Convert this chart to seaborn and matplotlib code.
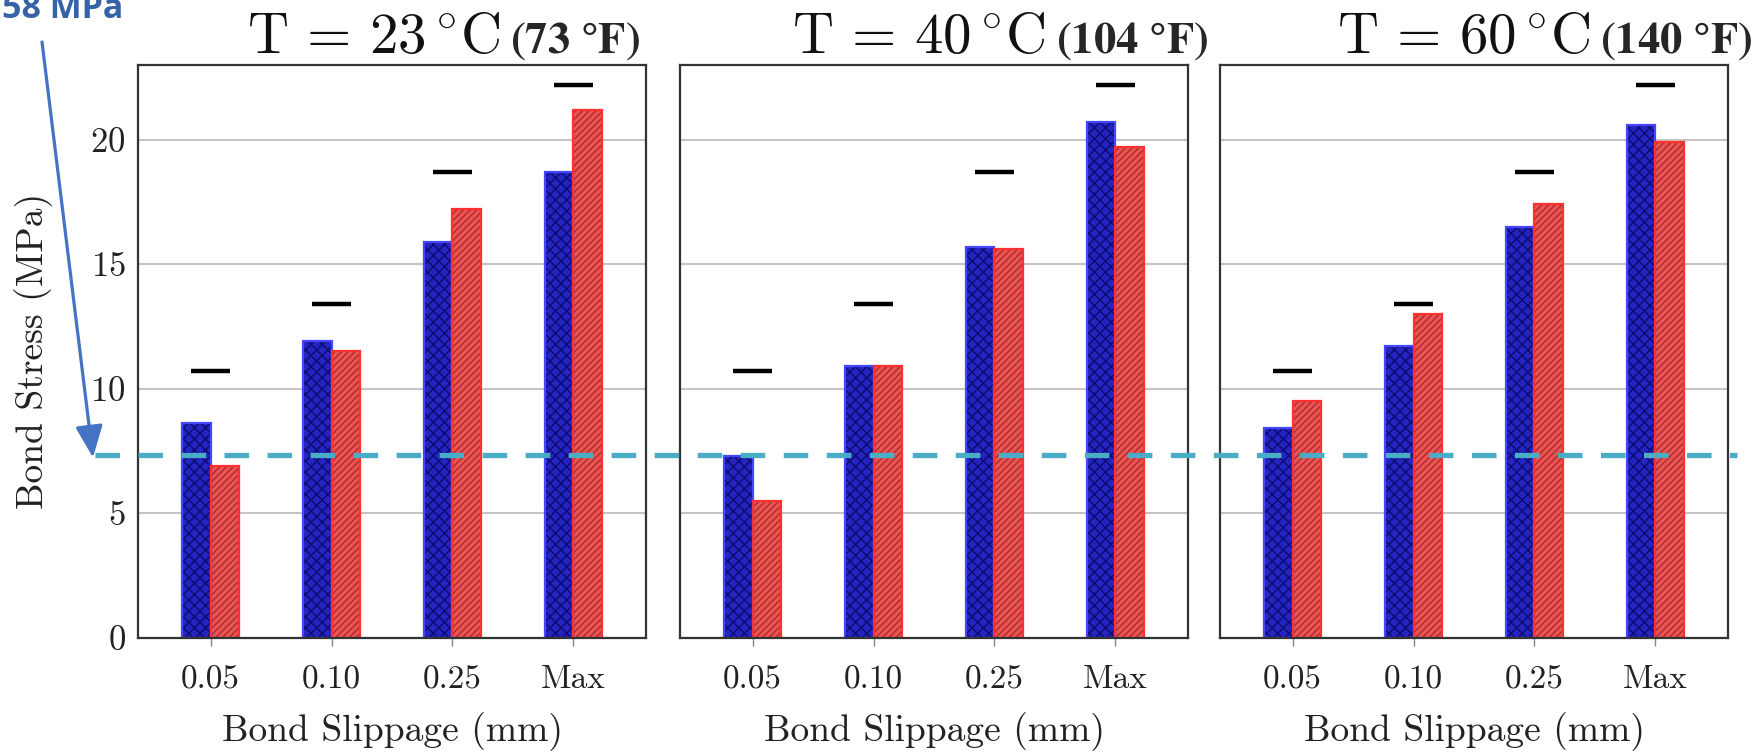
import numpy as np
import pandas as pd
import matplotlib
matplotlib.use("Agg")
import matplotlib.pyplot as plt
import matplotlib.transforms as mtrans
from matplotlib.patches import Rectangle, FancyArrowPatch
from matplotlib.lines import Line2D
import seaborn as sns

# ---------------- data ----------------
slips = ["0.05", "0.10", "0.25", "Max"]
temps_c = ["23", "40", "60"]
temps_f = ["73", "104", "140"]
specimens = ["A", "B"]

blue_23 = [8.6, 11.9, 15.9, 18.7]
red_23 = [6.9, 11.5, 17.2, 21.2]
blue_40 = [7.3, 10.9, 15.7, 20.7]
red_40 = [5.5, 10.9, 15.6, 19.7]
blue_60 = [8.4, 11.7, 16.5, 20.6]
red_60 = [9.5, 13.0, 17.4, 19.9]
reference = [10.7, 13.4, 18.7, 22.2]
threshold = 7.35
threshold_label = "58 MPa"

yticks = [0, 5, 10, 15, 20]
ylim_top = 23

blues = [blue_23, blue_40, blue_60]
reds = [red_23, red_40, red_60]

rows = []
for t, b, r in zip(temps_c, blues, reds):
    for s, bv, rv in zip(slips, b, r):
        rows.append({"temp": t, "slip": s, "spec": "A", "stress": bv})
        rows.append({"temp": t, "slip": s, "spec": "B", "stress": rv})
df = pd.DataFrame(rows)

# ---------------- style ----------------
sns.set_theme(style="white")
plt.rcParams["mathtext.fontset"] = "cm"
plt.rcParams["axes.formatter.use_mathtext"] = True
plt.rcParams["hatch.linewidth"] = 1.0
CM = ["cmr10", "DejaVu Serif"]

W, H = 1763, 753
fig = plt.figure(figsize=(W / 100, H / 100), dpi=100)

lefts = [138, 680, 1220]
splits = [0.713, 0.72, 0.728]
ax_w = 508
top_px, bot_px = 65, 637.5

blue_face, blue_hatch, blue_edge = "#2424c0", "#0c0c70", "#4646ff"
red_face, red_hatch, red_edge = "#f05252", "#a03030", "#ff3030"

axes = []
for i, (t, tf) in enumerate(zip(temps_c, temps_f)):
    ax = fig.add_axes([lefts[i] / W, 1 - bot_px / H, ax_w / W, (bot_px - top_px) / H])
    axes.append(ax)
    sub = df[df["temp"] == t]
    sns.barplot(data=sub, x="slip", y="stress", hue="spec", order=slips,
                hue_order=specimens, palette=[blue_face, red_face],
                width=0.47, gap=0, saturation=1, legend=False, ax=ax,
                errorbar=None)
    for cont, hc, ec, hatch in zip(ax.containers, [blue_hatch, red_hatch],
                                   [blue_edge, red_edge], ["xxx", "/////"]):
        for bar in cont:
            bar.set_hatch(hatch)
            bar.set_edgecolor(hc)
            bar.set_linewidth(0)
            ax.add_patch(Rectangle(bar.get_xy(), bar.get_width(), bar.get_height(),
                                   fill=False, edgecolor=ec, lw=1.6,
                                   zorder=bar.get_zorder() + 0.1))
    xs = np.arange(len(slips))
    ax.hlines(reference, xs - 0.16, xs + 0.16, color="black", lw=3.2, zorder=5)

    ax.set_xlim(-0.6, 3.6)
    ax.set_ylim(0, ylim_top)
    ax.set_yticks(yticks)
    ax.grid(axis="y", color="#c4c4c4", lw=1.5)
    ax.set_axisbelow(True)
    for sp in ax.spines.values():
        sp.set_visible(True)
        sp.set_color("#333333")
        sp.set_linewidth(1.6)
    ax.tick_params(axis="x", direction="out", length=6, width=1, color="#888888",
                   pad=14, bottom=True, labelsize=24)
    ax.tick_params(axis="y", length=0, pad=9, labelsize=25)
    for lab in ax.get_xticklabels() + ax.get_yticklabels():
        lab.set_fontfamily(CM)
        lab.set_color("#222222")
    if i > 0:
        ax.set_yticklabels([])
        ax.set_ylabel("")
    else:
        ax.set_ylabel("Bond Stress (MPa)", fontfamily=CM, fontsize=27, color="#222222")
        ax.yaxis.set_label_coords(-0.168, 0.5)
    ax.set_xlabel("Bond Slippage (mm)", fontfamily=CM, fontsize=27, color="#222222",
                  labelpad=13)

    # title: CM part + bold Times-like part
    split = splits[i]
    ax.text(split, 1.021, r"$\mathrm{T}\,=\,%s\,^{\circ}\mathrm{C}$" % t,
            transform=ax.transAxes, ha="right", va="baseline", fontsize=41,
            color="#111111")
    off = mtrans.offset_copy(ax.transAxes, fig=fig, x=10, y=0, units="dots")
    ax.text(split, 1.021, r"$\mathbf{(%s\ °F)}$" % tf, transform=off, ha="left",
            va="baseline", fontsize=32, math_fontfamily="stix", color="#262626")

# threshold dashed line across all panels
blend = mtrans.blended_transform_factory(fig.transFigure, axes[0].transData)
fig.add_artist(Line2D([95 / W, 1737 / W], [threshold, threshold], transform=blend,
                      color="#4bacc6", lw=3.8, ls=(0, (4.65, 3.5)), zorder=10,
                      solid_capstyle="butt"))

# arrow from label to the threshold line
tip = blend.transform((93 / W, threshold))
arrow = FancyArrowPatch(posA=(42, H - 42), posB=(tip[0], tip[1] - 3),
                        transform=mtrans.IdentityTransform(),
                        arrowstyle="-|>,head_length=0.7,head_width=0.3",
                        mutation_scale=28, color="#4472c4", lw=2.3, zorder=11,
                        shrinkA=0, shrinkB=0)
fig.add_artist(arrow)

fig.text(2 / W, 1 - 18 / H, threshold_label, ha="left", va="baseline",
         fontsize=24.5, fontweight="bold", fontfamily="Open Sans", color="#3563a6")

fig.savefig("out.png", dpi=100)
